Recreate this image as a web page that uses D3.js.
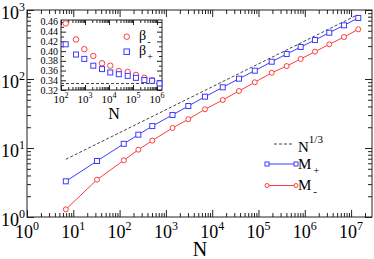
<!DOCTYPE html>
<html><head><meta charset="utf-8">
<script src="https://cdn.jsdelivr.net/npm/d3@7"></script>
<style>
body{margin:0;background:#fff}
svg{display:block}
text{font-family:"Liberation Serif","Times New Roman",serif;fill:#000}
</style>
</head><body><svg id="c" width="374" height="259"></svg>
<script>
// ---- data ----
const mainN = [6.9, 32.5, 123, 254, 508, 1390, 3050, 6990, 16900, 37900, 83200, 193000, 406000, 815000, 1.66e6, 3.38e6, 7.03e6, 1.43e7];
const mPlus = [3.29, 6.48, 11.5, 15.6, 20.8, 30.1, 40.6, 55.4, 75.8, 101, 132, 178, 230, 291, 367, 469, 600, 766];
const mMinus = [1.29, 3.47, 6.63, 9.45, 12.8, 19.5, 26.1, 36.4, 49.6, 67.0, 89.6, 123, 154, 195, 249, 318, 406, 525];
const refN = [6.9, 1.36e7];
const refY = [6.86, 847];
const insetN = [157, 422, 935, 2220, 5100, 11300, 25600, 60100, 133000, 296000, 619000, 1.27e6];
const betaMinus = [0.457, 0.424, 0.404, 0.390, 0.375, 0.370, 0.359, 0.357, 0.351, 0.345, 0.340];
const betaPlus = [0.414, 0.393, 0.384, 0.370, 0.363, 0.356, 0.3525, 0.349, 0.345, 0.3405, 0.339, 0.3335];
const betaRef = [0.3333, 0.3333];
const mainXExps = [0, 1, 2, 3, 4, 5, 6, 7];
const mainYExps = [0, 1, 2, 3];
const insetXExps = [2, 3, 4, 5, 6];
const insetYTicks = [0.32, 0.34, 0.36, 0.38, 0.40, 0.42, 0.44, 0.46];
const insetYMinor = [0.33, 0.35, 0.37, 0.39, 0.41, 0.43, 0.45];
const legendLabels = ["N", "M", "M"];

const RED = "#ff3c3c", BLUE = "#3c3cff", DASH = "#444";
const svg = d3.select("#c");

// ---- main plot ----
const M = {l: 27, r: 372, t: 10, b: 217};
const x = d3.scaleLog().domain([1, 2.83e7]).range([M.l, M.r]);
const y = d3.scaleLog().domain([1, 1000]).range([M.b, M.t]);

function minorVals(lo, hi) {
  const out = [];
  for (let e = Math.floor(Math.log10(lo)); e <= Math.ceil(Math.log10(hi)); e++)
    for (let k = 2; k <= 9; k++) { const v = k * Math.pow(10, e); if (v > lo && v < hi) out.push(v); }
  return out;
}

function drawAxes(g, xs, ys, box, xMaj, xMin, yMaj, yMin, big, small) {
  const defs = [
    [d3.axisBottom, xs, box.b, true], [d3.axisTop, xs, box.t, true],
    [d3.axisLeft, ys, box.l, false], [d3.axisRight, ys, box.r, false]
  ];
  defs.forEach(([fn, sc, pos, hor]) => {
    const maj = hor ? xMaj : yMaj, mn = hor ? xMin : yMin;
    [[maj, big], [mn, small]].forEach(([vals, len]) => {
      const a = fn(sc).tickValues(vals).tickSize(-len).tickSizeOuter(0).tickFormat("");
      const gg = g.append("g").attr("transform", hor ? `translate(0,${pos})` : `translate(${pos},0)`).call(a);
      gg.select(".domain").remove();
      gg.selectAll("line").attr("stroke", "#222").attr("stroke-width", 1);
    });
  });
  g.append("rect").attr("x", box.l).attr("y", box.t).attr("width", box.r - box.l).attr("height", box.b - box.t)
    .attr("fill", "none").attr("stroke", "#222").attr("stroke-width", 1);
}

const gMain = svg.append("g");
drawAxes(gMain, x, y, M,
  mainXExps.map(e => Math.pow(10, e)), minorVals(1, 2.83e7),
  mainYExps.map(e => Math.pow(10, e)), minorVals(1, 1000), 7, 4);

// main tick labels
mainXExps.forEach(e => {
  const t = gMain.append("text").attr("x", x(Math.pow(10, e))).attr("y", 238).attr("text-anchor", "middle").attr("font-size", 18);
  t.append("tspan").text("10");
  t.append("tspan").attr("dy", -8).attr("font-size", 12).text(e);
});
mainYExps.forEach(e => {
  const t = gMain.append("text").attr("x", 25).attr("y", y(Math.pow(10, e)) + 9).attr("text-anchor", "end").attr("font-size", 18);
  t.append("tspan").text("10");
  t.append("tspan").attr("dy", -8).attr("font-size", 12).text(e);
});
gMain.append("text").attr("x", 200).attr("y", 256).attr("text-anchor", "middle").attr("font-size", 20).text("N");

// reference line
const line = d3.line().x(d => x(d[0])).y(d => y(d[1]));
gMain.append("path").datum(refN.map((n, i) => [n, refY[i]])).attr("d", line)
  .attr("fill", "none").attr("stroke", DASH).attr("stroke-width", 1).attr("stroke-dasharray", "3,2");

function series(g, xs, ys, xv, yv, color, shape, sz) {
  const lf = d3.line().x(d => xs(d[0])).y(d => ys(d[1]));
  const pts = xv.map((n, i) => [n, yv[i]]);
  g.append("path").datum(pts).attr("d", lf).attr("fill", "none").attr("stroke", color).attr("stroke-width", 1);
  markers(g, pts.map(p => [xs(p[0]), ys(p[1])]), color, shape, sz);
}
function markers(g, pix, color, shape, sz) {
  pix.forEach(([px, py]) => {
    if (shape === "sq") g.append("rect").attr("x", px - sz / 2).attr("y", py - sz / 2).attr("width", sz).attr("height", sz)
      .attr("fill", "#fff").attr("stroke", color).attr("stroke-width", 1);
    else g.append("circle").attr("cx", px).attr("cy", py).attr("r", sz / 2)
      .attr("fill", "#fff").attr("stroke", color).attr("stroke-width", 1);
  });
}
series(gMain, x, y, mainN, mPlus, BLUE, "sq", 5);
series(gMain, x, y, mainN, mMinus, RED, "ci", 5);

// main legend
const lg = svg.append("g");
lg.append("line").attr("x1", 274).attr("x2", 293).attr("y1", 144).attr("y2", 144).attr("stroke", DASH).attr("stroke-dasharray", "3,2");
const t1 = lg.append("text").attr("x", 298).attr("y", 152).attr("font-size", 15);
t1.append("tspan").text(legendLabels[0]);
t1.append("tspan").attr("dy", -9).attr("font-size", 11).text("1/3");
[[164, BLUE, "sq", "+"], [185.5, RED, "ci", "-"]].forEach(([ly, c, s, sub], i) => {
  lg.append("line").attr("x1", 267).attr("x2", 296).attr("y1", ly).attr("y2", ly).attr("stroke", c);
  markers(lg, [[267, ly], [296, ly]], c, s, 4);
  const t = lg.append("text").attr("x", 298).attr("y", ly + 4.5).attr("font-size", 15);
  t.append("tspan").text(legendLabels[i + 1]);
  t.append("tspan").attr("dx", 2).attr("dy", 5).attr("font-size", 11).text(sub);
});

// ---- inset ----
const I = {l: 61, r: 162, t: 20, b: 90};
const ix = d3.scaleLog().domain([100, 1.61e6]).range([I.l, I.r]);
const iy = d3.scaleLinear().domain([0.32, 0.464]).range([I.b, I.t]);
const gIn = svg.append("g");
gIn.append("rect").attr("x", I.l).attr("y", I.t).attr("width", I.r - I.l).attr("height", I.b - I.t).attr("fill", "#fff");
drawAxes(gIn, ix, iy, I,
  insetXExps.map(e => Math.pow(10, e)), minorVals(100, 1.61e6),
  insetYTicks, insetYMinor, 5, 3);
insetXExps.forEach(e => {
  const t = gIn.append("text").attr("x", ix(Math.pow(10, e))).attr("y", 103).attr("text-anchor", "middle").attr("font-size", 11);
  t.append("tspan").text("10");
  t.append("tspan").attr("dy", -5).attr("font-size", 8).text(e);
});
insetYTicks.forEach(v => {
  gIn.append("text").attr("x", 58).attr("y", iy(v) + 3.5).attr("text-anchor", "end").attr("font-size", 10).text(v.toFixed(2));
});
gIn.append("text").attr("x", 114).attr("y", 119).attr("text-anchor", "middle").attr("font-size", 16).text("N");
gIn.append("path").datum(ix.domain().map((n, i) => [n, betaRef[i]]))
  .attr("d", d3.line().x(d => ix(d[0])).y(d => iy(d[1])))
  .attr("fill", "none").attr("stroke", DASH).attr("stroke-dasharray", "3,2");
markers(gIn, betaMinus.map((v, i) => [ix(insetN[i]), iy(v)]), RED, "ci", 5.5);
markers(gIn, betaPlus.map((v, i) => [ix(insetN[i]), iy(v)]), BLUE, "sq", 5);
// inset legend
[[36.7, RED, "ci", "-"], [51.7, BLUE, "sq", "+"]].forEach(([ly, c, s, sub]) => {
  markers(gIn, [[126.7, ly]], c, s, 5.5);
  const t = gIn.append("text").attr("x", 139).attr("y", ly + 3).attr("font-size", 14);
  t.append("tspan").text("β");
  t.append("tspan").attr("dx", 1).attr("dy", 5).attr("font-size", 10).text(sub);
});
</script>
</body></html>
